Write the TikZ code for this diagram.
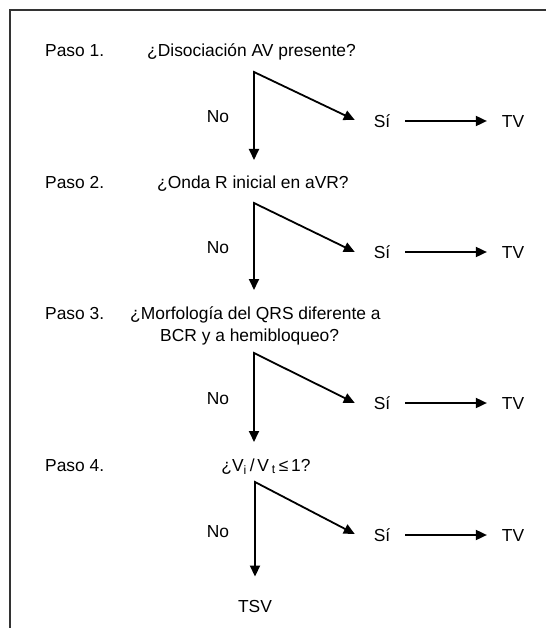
\documentclass[tikz,border=0pt]{standalone}
\usepackage{fontspec}
\setmainfont{Liberation Sans}
\usetikzlibrary{arrows.meta}
\begin{document}
\begin{tikzpicture}[x=1pt,y=-1pt,
  txt/.style={inner sep=0pt, text height=12.5pt, text depth=0pt, font=\fontsize{17.4}{21}\selectfont},
  lbl/.style={txt, anchor=west},
  side/.style={txt, outer xsep=15pt},
  fork/.style={line width=1.8pt, line join=miter, {Triangle[length=11pt,width=10pt]}-{Triangle[length=11pt,width=10pt]}},
  arr/.style={line width=1.8pt, -{Triangle[length=11pt,width=10pt]}},
  frame/.style={line width=1.4pt, black!80}]
\useasboundingbox (0,0) rectangle (546,628);
\draw[frame] (10,628) -- (10,10) -- (546,10);

% Step 1
\node[lbl] (p1) at (45,50) {Paso 1.};
\node[lbl] (q1) at (147,50) {¿Disociación AV presente?};
\coordinate (v1) at (254,72);
\coordinate (d1) at (254,160);
\node[txt] (no1) at (218,116) {No};
\node[side] (si1) at (382,121) {Sí};
\node[side] (tv1) at (513,121) {TV};
\draw[fork] (d1) -- (v1) -- ([xshift=-4pt,yshift=1pt]si1.west);
\draw[arr] (si1.east) -- (tv1.west);

% Step 2
\node[lbl] (p2) at (45,182) {Paso 2.};
\node[lbl] (q2) at (157,182) {¿Onda R inicial en aVR?};
\coordinate (v2) at (254,203);
\coordinate (d2) at (254,290);
\node[txt] (no2) at (218,247) {No};
\node[side] (si2) at (382,252) {Sí};
\node[side] (tv2) at (513,252) {TV};
\draw[fork] (d2) -- (v2) -- ([xshift=-4pt]si2.west);
\draw[arr] (si2.east) -- (tv2.west);

% Step 3
\node[lbl] (p3) at (45,313) {Paso 3.};
\node[lbl] (q3) at (130,313) {¿Morfología del QRS diferente a};
\node[lbl] (q3b) at (160,335) {BCR y a hemibloqueo?};
\coordinate (v3) at (254,353);
\coordinate (d3) at (254,442);
\node[txt] (no3) at (218,398) {No};
\node[side] (si3) at (382,403) {Sí};
\node[side] (tv3) at (513,403) {TV};
\draw[fork] (d3) -- (v3) -- ([xshift=-4pt]si3.west);
\draw[arr] (si3.east) -- (tv3.west);

% Step 4
\node[lbl] (p4) at (45,465) {Paso 4.};
\node[txt] (q4) at (266,465) {¿V\textsubscript{i}\,/\,V\,\textsubscript{t}\,≤\,1?};
\coordinate (v4) at (255,482);
\node[txt] (no4) at (218,531) {No};
\node[side] (si4) at (382,535) {Sí};
\node[side] (tv4) at (513,535) {TV};
\node[txt] (tsv) at (255,606) {TSV};
\draw[fork] ([yshift=23pt]tsv.north) -- (v4) -- ([xshift=-4pt,yshift=1pt]si4.west);
\draw[arr] (si4.east) -- (tv4.west);
\end{tikzpicture}
\end{document}
